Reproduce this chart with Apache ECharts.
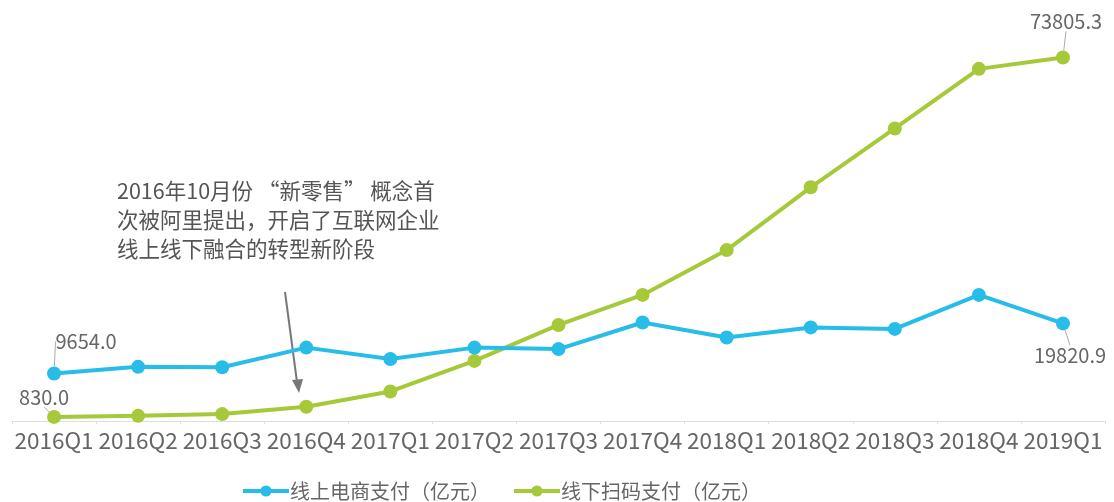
<!DOCTYPE html>
<html><head><meta charset="utf-8">
<script src="https://cdn.jsdelivr.net/npm/echarts@6/dist/echarts.min.js"></script>
<style>html,body{margin:0;padding:0;background:#fff}#c{width:1114px;height:502px}</style>
</head><body><div id="c"></div>
<script>
const categories = ['2016Q1','2016Q2','2016Q3','2016Q4','2017Q1','2017Q2','2017Q3','2017Q4','2018Q1','2018Q2','2018Q3','2018Q4','2019Q1'];
const onlineValues = [9654.0, 11000, 10900, 14900, 12600, 14900, 14600, 20000, 16950, 19000, 18700, 25600, 19820.9];
const offlineValues = [830.0, 1050, 1400, 2900, 6000, 12200, 19500, 25600, 34700, 47450, 59400, 71500, 73805.3];
const seriesNames = ['线上电商支付（亿元）', '线下扫码支付（亿元）'];
const noteText = '2016年10月份 “新零售” 概念首\n次被阿里提出，开启了互联网企业\n线上线下融合的转型新阶段';

const FONT = '"Noto Sans CJK SC", "Noto Sans", sans-serif';
const BLUE = '#27bde8';
const GREEN = '#a6c93a';
const TXT = '#666666';

function endLabels(values, firstPos, lastPos) {
  return values.map((v, i) => {
    if (i === 0 || i === values.length - 1) {
      return { value: v, label: { show: true, position: i === 0 ? firstPos : lastPos, formatter: (p) => p.value.toFixed(1) } };
    }
    return v;
  });
}

const chart = echarts.init(document.getElementById('c'), null, { renderer: 'canvas' });
const layoutOnline = (p) => p.dataIndex === 0 ? { dx: 32, dy: -10 } : { dx: 7, dy: 10 };
const layoutOffline = (p) => p.dataIndex === 0 ? { dx: -10, dy: 2 } : { dx: 3, dy: -14 };

chart.setOption({
  animation: false,
  textStyle: { fontFamily: FONT },
  grid: { left: 12, right: 9, top: 27, bottom: 81 },
  legend: {
    left: 236, top: 476, itemWidth: 46, itemHeight: 14, itemGap: 22,
    lineStyle: { width: 4 },
    textStyle: { fontSize: 20, color: TXT, fontFamily: FONT, padding: [0, 0, 0, -4] },
    data: seriesNames
  },
  xAxis: {
    type: 'category', data: categories, boundaryGap: true,
    axisLine: { lineStyle: { color: '#dddddd', width: 1 } },
    axisTick: { show: true, length: 3, lineStyle: { color: '#dddddd' } },
    axisLabel: { color: TXT, fontSize: 22.5, margin: 8, interval: 0, fontFamily: FONT }
  },
  yAxis: { type: 'value', min: 0, max: 80000, show: false, splitLine: { show: false } },
  series: [
    {
      name: seriesNames[0], type: 'line', data: endLabels(onlineValues, 'top', 'bottom'),
      color: BLUE, symbol: 'circle', symbolSize: 14,
      lineStyle: { width: 4, color: BLUE }, itemStyle: { color: BLUE },
      label: { show: false, fontSize: 20, color: TXT, fontFamily: FONT },
      labelLine: { show: true, lineStyle: { color: '#aaaaaa', width: 1 } },
      labelLayout: layoutOnline, z: 3
    },
    {
      name: seriesNames[1], type: 'line', data: endLabels(offlineValues, 'top', 'top'),
      color: GREEN, symbol: 'circle', symbolSize: 14,
      lineStyle: { width: 4, color: GREEN }, itemStyle: { color: GREEN },
      label: { show: false, fontSize: 20, color: TXT, fontFamily: FONT },
      labelLine: { show: true, lineStyle: { color: '#aaaaaa', width: 1 } },
      labelLayout: layoutOffline, z: 2
    }
  ],
  graphic: [
    { type: 'text', left: 117, top: 176, style: { text: noteText, fontSize: 21.5, lineHeight: 29, fill: '#555555', fontFamily: FONT } },
    { type: 'line', shape: { x1: 285, y1: 292, x2: 297, y2: 382 }, style: { stroke: '#777777', lineWidth: 2 } },
    { type: 'polygon', shape: { points: [[292, 380], [303, 379], [299, 393]] }, style: { fill: '#777777' } }
  ]
});
</script></body></html>
